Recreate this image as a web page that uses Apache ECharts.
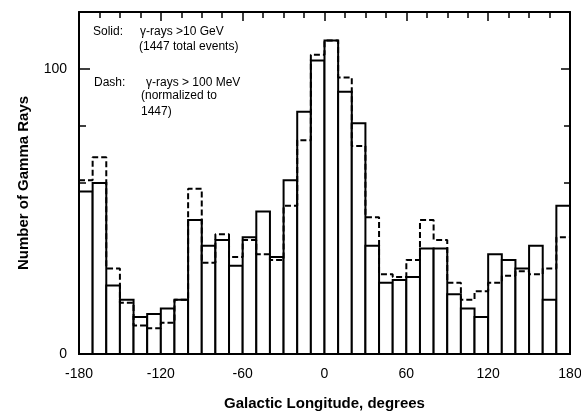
<!DOCTYPE html>
<html>
<head>
<meta charset="utf-8">
<script src="https://cdn.jsdelivr.net/npm/echarts@6/dist/echarts.min.js"></script>
<style>
  html, body { margin: 0; padding: 0; background: #fff; }
  #chart { width: 581px; height: 416px; }
</style>
</head>
<body>
<div id="chart"></div>
<script>
  // bin left edges, 10 degree bins
  var binStarts = [-180, -170, -160, -150, -140, -130, -120, -110, -100, -90, -80, -70,
                   -60, -50, -40, -30, -20, -10, 0, 10, 20, 30, 40, 50,
                   60, 70, 80, 90, 100, 110, 120, 130, 140, 150, 160, 170];
  var binWidth = 10;
  // solid: gamma-rays > 10 GeV
  var solidCounts = [57, 60, 24, 19, 13, 14, 16, 19, 47, 38, 40, 31,
                     41, 50, 34, 61, 85, 103, 110, 92, 81, 38, 25, 26,
                     27, 37, 37, 21, 16, 13, 35, 33, 30, 38, 19, 52];
  // dashed: gamma-rays > 100 MeV, normalized to 1447
  var dashCounts = [61, 69, 30, 18, 10, 9, 11, 19, 58, 32, 42, 34,
                    40, 35, 33, 52, 75, 105, 110, 97, 73, 48, 28, 27,
                    33, 47, 40, 25, 19, 22, 25, 27.5, 29, 28, 30, 41];
  var xTicks = [-180, -120, -60, 0, 60, 120, 180];

  var solidData = binStarts.map(function (s, i) { return [s, solidCounts[i]]; });
  var dashData = binStarts.map(function (s, i) { return [s, dashCounts[i]]; });
  dashData.push([binStarts[binStarts.length - 1] + binWidth, dashCounts[dashCounts.length - 1]]);

  var chart = echarts.init(document.getElementById('chart'));
  var fontFam = 'Liberation Sans, Arial, sans-serif';
  var tickStyle = { color: '#000', width: 1.5 };

  chart.setOption({
    backgroundColor: '#ffffff',
    animation: false,
    grid: { left: 79, right: 11, top: 12, bottom: 62, outerBoundsMode: 'none' },
    xAxis: [{
      type: 'value', min: -180, max: 180, interval: 60, position: 'bottom',
      name: 'Galactic Longitude, degrees', nameLocation: 'middle', nameGap: 42,
      nameTextStyle: { fontSize: 15, fontWeight: 'bold', color: '#000', fontFamily: fontFam },
      axisLine: { onZero: false, lineStyle: { color: '#000', width: 2 } },
      axisTick: { show: false },
      splitLine: { show: false },
      axisLabel: { fontSize: 14, color: '#000', margin: 13, fontFamily: fontFam,
        customValues: xTicks }
    }, {
      type: 'value', min: -180, max: 180, interval: 60, position: 'top',
      axisLine: { onZero: false, lineStyle: { color: '#000', width: 2 } },
      axisTick: { inside: true, length: 9, lineStyle: tickStyle },
      minorTick: { show: true, splitNumber: 4, length: 6, lineStyle: tickStyle },
      splitLine: { show: false },
      axisLabel: { show: false }
    }],
    yAxis: [{
      type: 'value', min: 0, max: 120, interval: 20, position: 'left',
      name: 'Number of Gamma Rays', nameLocation: 'middle', nameGap: 48,
      nameTextStyle: { fontSize: 15, fontWeight: 'bold', color: '#000', fontFamily: fontFam },
      axisLine: { show: true, onZero: false, lineStyle: { color: '#000', width: 2 } },
      axisTick: { inside: true, length: 7, lineStyle: tickStyle },
      splitLine: { show: false },
      axisLabel: { fontSize: 14, color: '#000', margin: 12, fontFamily: fontFam,
        customValues: [0, 100] }
    }, {
      type: 'value', min: 0, max: 120, interval: 20, position: 'left',
      axisLine: { show: false, onZero: false },
      axisTick: { inside: true, length: 11, customValues: [100], lineStyle: tickStyle },
      splitLine: { show: false },
      axisLabel: { show: false }
    }, {
      type: 'value', min: 0, max: 120, interval: 20, position: 'right',
      axisLine: { show: true, onZero: false, lineStyle: { color: '#000', width: 2 } },
      axisTick: { inside: true, length: 6, lineStyle: tickStyle },
      splitLine: { show: false },
      axisLabel: { show: false }
    }, {
      type: 'value', min: 0, max: 120, interval: 20, position: 'right',
      axisLine: { show: false, onZero: false },
      axisTick: { inside: true, length: 9, customValues: [100], lineStyle: tickStyle },
      splitLine: { show: false },
      axisLabel: { show: false }
    }],
    graphic: [
      { type: 'text', left: 93, top: 26, style: { text: 'Solid:', fontSize: 12, fontFamily: fontFam, fill: '#000' } },
      { type: 'text', left: 140, top: 26, style: { text: 'γ-rays >10 GeV', fontSize: 12, fontFamily: fontFam, fill: '#000' } },
      { type: 'text', left: 139, top: 41, style: { text: '(1447 total events)', fontSize: 12, fontFamily: fontFam, fill: '#000' } },
      { type: 'text', left: 94, top: 77, style: { text: 'Dash:', fontSize: 12, fontFamily: fontFam, fill: '#000' } },
      { type: 'text', left: 146, top: 77, style: { text: 'γ-rays > 100 MeV', fontSize: 12, fontFamily: fontFam, fill: '#000' } },
      { type: 'text', left: 141, top: 90, style: { text: '(normalized to', fontSize: 12, fontFamily: fontFam, fill: '#000' } },
      { type: 'text', left: 141, top: 106, style: { text: '1447)', fontSize: 12, fontFamily: fontFam, fill: '#000' } }
    ],
    series: [{
      name: 'solid',
      type: 'custom',
      xAxisIndex: 0, yAxisIndex: 0,
      z: 2,
      data: solidData,
      renderItem: function (params, api) {
        var x0 = api.value(0);
        var p0 = api.coord([x0, api.value(1)]);
        var p1 = api.coord([x0 + binWidth, 0]);
        return {
          type: 'rect',
          shape: { x: p0[0], y: p0[1], width: p1[0] - p0[0], height: p1[1] - p0[1] },
          style: { fill: '#fff', stroke: '#000', lineWidth: 2 }
        };
      }
    }, {
      name: 'dash',
      type: 'line',
      xAxisIndex: 0, yAxisIndex: 0,
      z: 3,
      step: 'end',
      symbol: 'none',
      data: dashData,
      lineStyle: { color: '#000', width: 2, type: [6, 3] }
    }]
  });
</script>
</body>
</html>
